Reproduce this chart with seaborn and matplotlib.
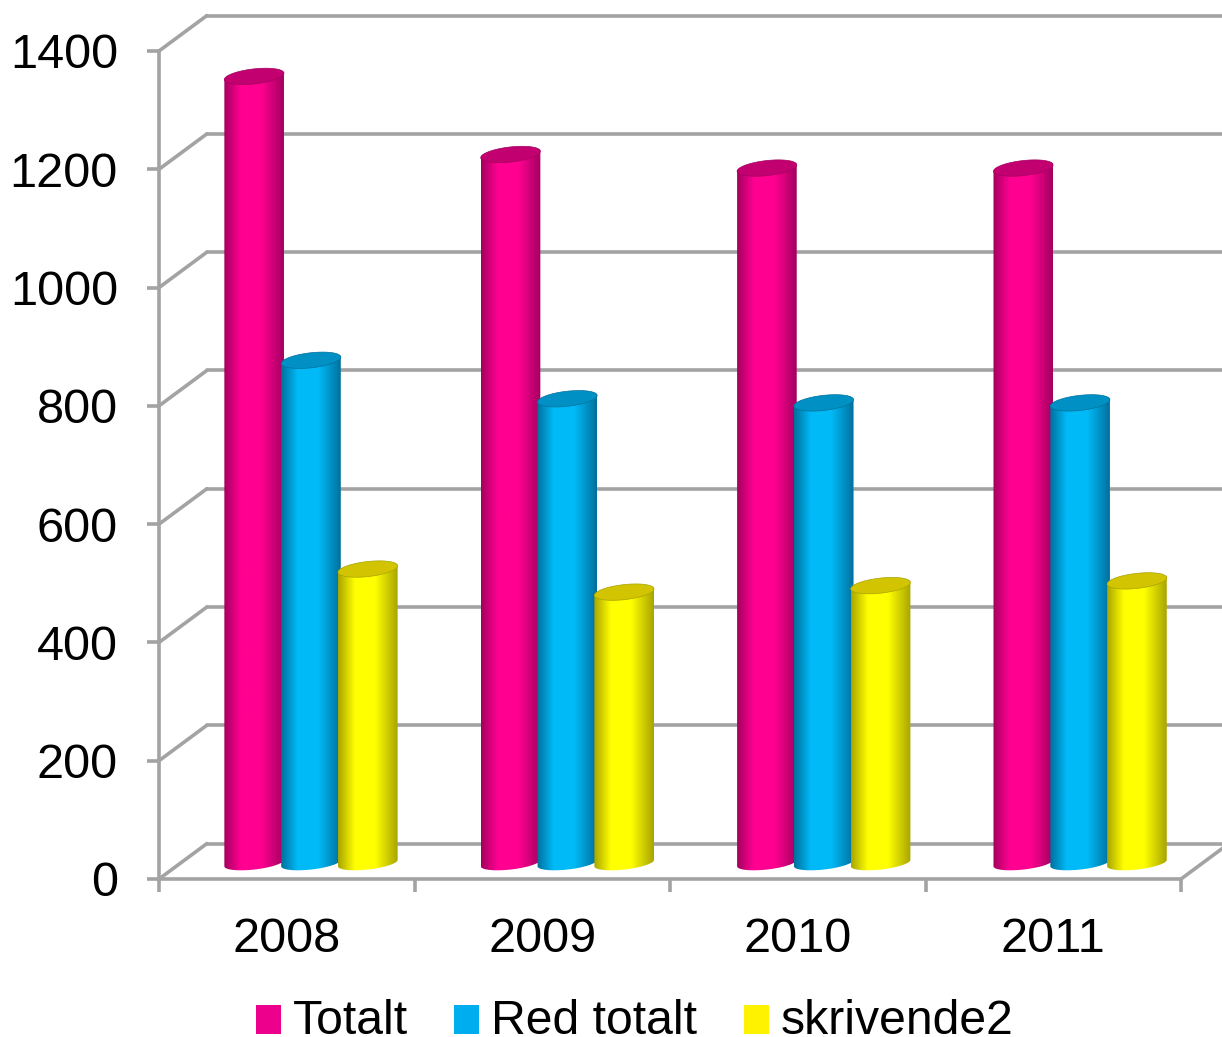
import numpy as np
import pandas as pd
import matplotlib
matplotlib.use("Agg")
import matplotlib.pyplot as plt
import seaborn as sns
from matplotlib.colors import LinearSegmentedColormap
from matplotlib.patches import PathPatch, Rectangle
from matplotlib.path import Path
from matplotlib.transforms import IdentityTransform

years = ["2008", "2009", "2010", "2011"]
series_names = ["Totalt", "Red totalt", "skrivende2"]
totalt = [1330, 1198, 1175, 1175]
red_totalt = [850, 785, 778, 778]
skrivende2 = [497, 458, 469, 477]
y_ticks = [0, 200, 400, 600, 800, 1000, 1200, 1400]

legend_colors = ["#ec008c", "#00aeef", "#fff200"]
edge_colors = ["#a30060", "#00709c", "#a8a400"]
center_colors = ["#ff0090", "#00baf8", "#ffff00"]
cap_colors = ["#c2006f", "#0090c4", "#d2c400"]
grid_color = "#a3a3a3"

sns.set_style("white")
plt.rcParams["font.family"] = ["Liberation Sans", "DejaVu Sans"]
plt.rcParams["font.size"] = 35
plt.rcParams["text.color"] = "black"

W, H = 1222, 1037
fig = plt.figure(figsize=(W / 100, H / 100), dpi=100, facecolor="white")


def make_axes(shift_x, shift_y, zorder, width=1022):
    left, base, top = 159, 879, 51
    ax = fig.add_axes([(left + shift_x) / W, (H - base - shift_y) / H,
                       width / W, (base - top) / H], zorder=zorder)
    ax.patch.set_alpha(0)
    ax.set_xlim(-0.5, 3.5)
    ax.set_ylim(0, 1400)
    return ax


lw = 2.6
depth_x, depth_y = 48, 35.5

# back wall with gridlines
wall = make_axes(depth_x, -depth_y, 0)
wall.set_yticks(y_ticks)
wall.set_xticks([])
wall.tick_params(left=False, labelleft=False)
wall.grid(axis="y", color=grid_color, lw=lw)
for gl in wall.get_ygridlines():
    gl.set_clip_on(False)
wall.set_axisbelow(True)
for s in wall.spines.values():
    s.set_visible(False)

# front axis with ticks and labels
front = make_axes(0, 0, 1)
for name, s in front.spines.items():
    s.set_visible(name in ("left", "bottom"))
    s.set_color(grid_color)
    s.set_linewidth(lw)
front.set_yticks(y_ticks)
front.set_yticklabels([str(v) for v in y_ticks])
front.tick_params(axis="y", left=True, length=8.6, width=lw, color=grid_color, pad=21, labelsize=35, labelcolor="black")
front.set_xticks([-0.5, 0.5, 1.5, 2.5, 3.5])
front.set_xticklabels([])
front.set_xticks([0, 1, 2, 3], minor=True)
front.set_xticklabels(years, minor=True)
front.tick_params(axis="x", which="major", bottom=True, length=9, width=lw, color=grid_color)
front.tick_params(axis="x", which="minor", bottom=True, length=0, pad=27, labelsize=35, labelcolor="black")
dx_data = depth_x / (1022 / 4)
dy_data = depth_y / (828 / 1400)
for v in y_ticks:
    front.plot([-0.5, -0.5 + dx_data], [v, v + dy_data], color=grid_color, lw=lw, clip_on=False, solid_capstyle="round")
front.plot([3.5, 3.5 + dx_data], [0, dy_data], color=grid_color, lw=lw, clip_on=False)
front.set_xlim(-0.5, 3.5)
front.set_ylim(0, 1400)

# cylinders
bars_width = 1025.5
bars_ax = make_axes(23.8, -16, 2, width=bars_width)
df = pd.DataFrame({
    "year": years * 3,
    "series": [n for n in series_names for _ in years],
    "value": totalt + red_totalt + skrivende2,
})
sns.barplot(data=df, x="year", y="value", hue="series", order=years, hue_order=series_names,
            palette=legend_colors, width=0.665, saturation=1, ax=bars_ax, legend=True, errorbar=None)
bars_ax.get_legend().remove()
bars_ax.axis("off")
bars_ax.set_xlim(-0.5, 3.5)
bars_ax.set_ylim(0, 1400)


def ellipse_pts(cx, cy, a, b, t0, t1, rot=np.radians(6.5), n=60):
    t = np.linspace(t0, t1, n)
    x, y = a * np.cos(t), b * np.sin(t)
    return np.c_[cx + x * np.cos(rot) - y * np.sin(rot), cy + x * np.sin(rot) + y * np.cos(rot)]


for i, container in enumerate(bars_ax.containers):
    cmap = LinearSegmentedColormap.from_list(
        f"cyl{i}",
        [(0, edge_colors[i]), (0.28, center_colors[i]), (0.42, center_colors[i]),
         (0.62, center_colors[i]), (1, edge_colors[i])])
    for bar in container:
        x0, w, h = bar.get_x(), bar.get_width(), bar.get_height()
        p0 = bars_ax.transData.transform((x0 + w / 2, 0))
        p1 = bars_ax.transData.transform((x0 + w / 2, h))
        half_w = 30
        outline = np.vstack([
            ellipse_pts(p0[0], p0[1], half_w, 6.5, np.pi, 2 * np.pi),
            ellipse_pts(p1[0], p1[1], half_w, 6.5, 0, np.pi),
        ])
        body = Path(np.vstack([outline, outline[:1]]), closed=True)
        bar.set_zorder(3 + i)
        bar.set_clip_path(body, IdentityTransform())
        extra = 1.5 / (bars_width / 4)
        img = bars_ax.imshow(np.linspace(0, 1, 256)[None, :], cmap=cmap, aspect="auto",
                             extent=(x0 - extra, x0 + w + extra, -30, h + 30), zorder=3 + i + 0.1,
                             interpolation="bilinear")
        img.set_clip_path(body, IdentityTransform())
        img.set_clip_box(fig.bbox)
        cap = PathPatch(Path(ellipse_pts(p1[0], p1[1], half_w, 7.5, 0, 2 * np.pi), closed=True),
                        facecolor=cap_colors[i], edgecolor=edge_colors[i], lw=0.5,
                        transform=IdentityTransform(), zorder=3 + i + 0.2, clip_on=False)
        bars_ax.add_patch(cap)
bars_ax.set_xlim(-0.5, 3.5)
bars_ax.set_ylim(0, 1400)

proxy = [Rectangle((0, 0), 1, 1, facecolor=c, edgecolor="none") for c in legend_colors]
leg = fig.legend(proxy, series_names, ncol=3, loc="center", bbox_to_anchor=(634.5 / W, (H - 1021) / H),
                 frameon=False, fontsize=34.7, labelcolor="black", handlelength=0.52, handleheight=0.52,
                 handletextpad=0.24, columnspacing=0.97, borderpad=0, borderaxespad=0)
for handle in leg.get_patches():
    handle.set_y(handle.get_y() - 2.2)

fig.savefig("out.png", dpi=100, facecolor="white")
